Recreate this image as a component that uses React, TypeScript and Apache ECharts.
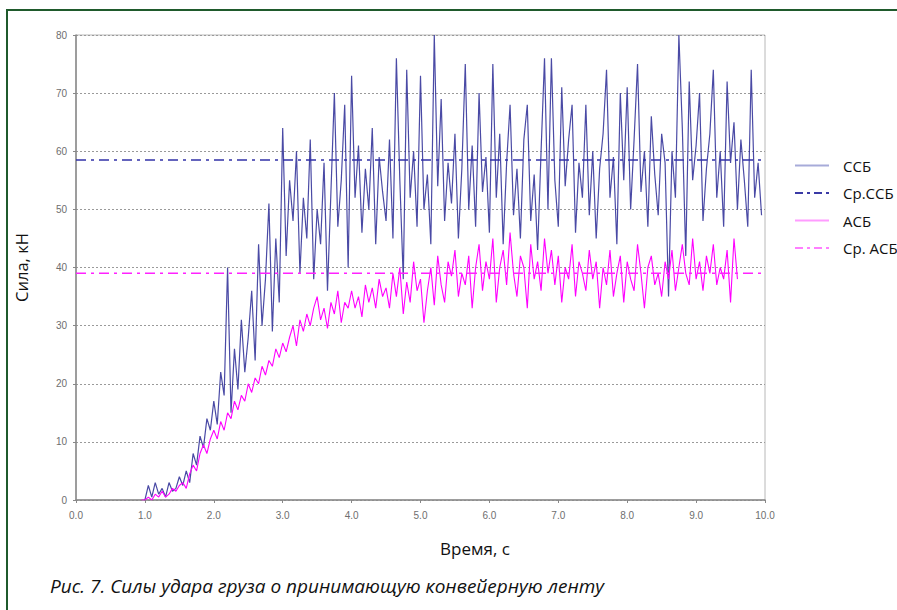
import React, { useEffect, useRef } from "react";
import * as echarts from "echarts";

// time grid: ССБ starts at 1.00 s, АСБ at 0.95 s, step 0.05 s
const STEP = 0.05;
const ssbStart = 1.0;
const asbStart = 0.95;

const ssbValues = [
  0, 2.5, 0.5, 3, 1, 2, 0.5, 3, 1.5, 2, 4, 2.5,
  5, 3, 8, 6, 11, 9, 14, 12,
  17, 13, 22, 18, 40, 15, 26, 19, 31, 22,
  28, 36, 24, 44, 30, 38, 51, 29, 45, 34,
  64, 42, 55, 48, 60, 39, 52, 45, 62, 38,
  50, 44, 58, 36, 53, 70, 47, 55, 68, 40,
  73, 52, 61, 46, 57, 50, 64, 44, 59, 53,
  48, 62, 45, 76, 55, 38, 74, 52, 60, 47,
  73, 50, 56, 44, 80, 54, 69, 48, 58, 51,
  63, 45, 57, 75, 50, 61, 47, 70, 53, 59,
  46, 75, 52, 63, 44, 58, 68, 49, 57, 45,
  62, 68, 48, 56, 43, 60, 76, 50, 76, 55,
  47, 71, 54, 62, 68, 46, 58, 52, 68, 49,
  60, 45, 57, 63, 74, 52, 59, 44, 70, 55,
  71, 50, 62, 75, 53, 60, 47, 66, 56, 49,
  63, 58, 35, 60, 52, 80, 64, 42, 72, 55,
  61, 70, 48, 57, 63, 74, 52, 60, 47, 72,
  58, 65, 50, 62, 55, 47, 74, 52, 58, 49,
];

const asbValues = [
  0, 0, 0.5, 0, 1, 0.5, 1.5, 0.5, 1, 2, 1.5,
  2.5, 3, 2, 4.5, 6, 5, 8, 9.5, 8, 10.5,
  12, 10.5, 13.5, 12, 15, 14, 17, 15.5, 18, 17,
  20, 18.5, 21, 20, 23, 21.5, 24, 23, 26, 24.5,
  27, 25.5, 28, 30, 26.5, 31, 29, 32, 30, 33,
  35, 31, 33, 29.5, 34, 32, 36, 30.5, 34, 33,
  36, 33, 35, 31.5, 37, 34, 36.5, 33, 38, 35,
  36.5, 33, 39, 35, 40, 32, 37.5, 34, 41, 36,
  38, 30.5, 36, 40, 33.5, 42, 37, 34, 41, 38.5,
  43, 35, 39, 37, 42, 33, 40, 44, 36, 41,
  38, 45, 34, 40, 43, 37, 46, 39, 35, 42,
  40, 33, 44, 38, 41, 36, 45, 39, 43, 37,
  42, 34, 40, 38, 44, 35, 41, 39, 36, 43,
  38, 41, 33, 40, 37, 43, 35, 39, 42, 34,
  41, 38, 36, 44, 39, 33, 40, 42, 37, 39,
  35, 41, 38, 43, 36, 40, 44, 39, 37, 45,
  38, 41, 36, 42, 39, 44, 37, 40, 38, 43,
  34, 45, 38,
];

const meanSSB = 58.5;
const meanASB = 39;
const xRange = [0, 10];

const seriesNames = ["ССБ", "Ср.ССБ", "АСБ", "Ср. АСБ"];
const yTicks = [0, 10, 20, 30, 40, 50, 60, 70, 80];

const toPairs = (start: number, vals: number[]) =>
  vals.map((v, i) => [+(start + i * STEP).toFixed(2), v]);

export default function App() {
  const ref = useRef<HTMLDivElement>(null);
  useEffect(() => {
    if (!ref.current) return;
    const chart = echarts.init(ref.current, undefined, { renderer: "svg" });
    const axisLabel = { color: "#6e6e6e", fontSize: 10, fontFamily: "Liberation Sans, Arial, sans-serif" };
    chart.setOption({
      animation: false,
      backgroundColor: "#ffffff",
      grid: {
        left: 76,
        top: 35,
        right: 132,
        bottom: 110,
        show: true,
        borderColor: "#b8b8b8",
        borderWidth: 1,
      },
      xAxis: {
        type: "value",
        min: xRange[0],
        max: xRange[1],
        interval: 1,
        axisLine: { show: true, lineStyle: { color: "#888", width: 1.5 } },
        axisTick: { show: true, length: 3, lineStyle: { color: "#888" } },
        axisLabel: { ...axisLabel, margin: 10, formatter: (v: number) => v.toFixed(1) },
        splitLine: { show: false },
      },
      yAxis: {
        type: "value",
        min: yTicks[0],
        max: yTicks[yTicks.length - 1],
        interval: 10,
        name: "Сила, кН",
        nameLocation: "middle",
        nameGap: 46,
        nameRotate: 90,
        nameTextStyle: { color: "#111", fontSize: 16.5, fontFamily: "Open Sans, sans-serif" },
        axisLine: { show: true, lineStyle: { color: "#888", width: 1.5 } },
        axisTick: { show: true, length: 3, lineStyle: { color: "#888" } },
        axisLabel: { ...axisLabel, margin: 9 },
        splitLine: { show: true, lineStyle: { color: "#9a9a9a", type: [2, 2], width: 1 } },
      },
      legend: {
        orient: "vertical",
        left: 789,
        top: 153,
        itemGap: 12.5,
        itemWidth: 34,
        itemHeight: 14,
        textStyle: { color: "#111", fontSize: 15, lineHeight: 14, fontFamily: "Open Sans, sans-serif", padding: [0, 0, 0, 9] },
        data: [
          { name: seriesNames[0], icon: "path://M0,6L34,6L34,8L0,8Z", itemStyle: { color: "#a7abd9" } },
          { name: seriesNames[1], lineStyle: { color: "#3a3aa6", width: 2, type: [8, 4, 3, 4] }, itemStyle: { opacity: 0 } },
          { name: seriesNames[2], icon: "path://M0,6L34,6L34,8L0,8Z", itemStyle: { color: "#ff9cff" } },
          { name: seriesNames[3], lineStyle: { color: "#ff55ff", width: 1.5, type: [8, 4, 3, 4] }, itemStyle: { opacity: 0 } },
        ],
      },
      series: [
        {
          name: seriesNames[0],
          type: "line",
          symbol: "none",
          data: toPairs(ssbStart, ssbValues),
          lineStyle: { color: "#2a2a95", width: 1.2, opacity: 0.85 },
          itemStyle: { color: "#2a2a95" },
          z: 2,
        },
        {
          name: seriesNames[1],
          type: "line",
          symbol: "none",
          data: [[xRange[0], meanSSB], [xRange[1], meanSSB]],
          lineStyle: { color: "#3232a8", width: 1.5, type: [10, 5, 3, 5] },
          itemStyle: { color: "#3232a8" },
          z: 4,
        },
        {
          name: seriesNames[2],
          type: "line",
          symbol: "none",
          data: toPairs(asbStart, asbValues),
          lineStyle: { color: "#ff00ff", width: 1.1 },
          itemStyle: { color: "#ff00ff" },
          z: 3,
        },
        {
          name: seriesNames[3],
          type: "line",
          symbol: "none",
          data: [[xRange[0], meanASB], [xRange[1], meanASB]],
          lineStyle: { color: "#ff22ff", width: 1.5, type: [10, 5, 3, 5] },
          itemStyle: { color: "#ff22ff" },
          z: 4,
        },
      ],
      graphic: [
        {
          type: "rect",
          shape: { x: 7, y: 10, width: 1000, height: 700 },
          style: { fill: "none", stroke: "#1f5a2c", lineWidth: 2 },
          silent: true,
        },
        {
          type: "text",
          x: 475,
          y: 548,
          style: {
            text: "Время, с",
            fill: "#111",
            fontSize: 17,
            fontFamily: "Open Sans, sans-serif",
            align: "center",
            verticalAlign: "middle",
          },
        },
        {
          type: "text",
          x: 50,
          y: 586,
          style: {
            text: "Рис. 7. Силы удара груза о принимающую конвейерную ленту",
            fill: "#111",
            fontSize: 19,
            fontStyle: "italic",
            fontFamily: "Open Sans, sans-serif",
            verticalAlign: "middle",
          },
        },
      ],
    });
    return () => chart.dispose();
  }, []);
  return (
    <div
      ref={ref}
      style={{ position: "fixed", left: 0, top: 0, width: 897, height: 610, background: "#fff" }}
    />
  );
}
